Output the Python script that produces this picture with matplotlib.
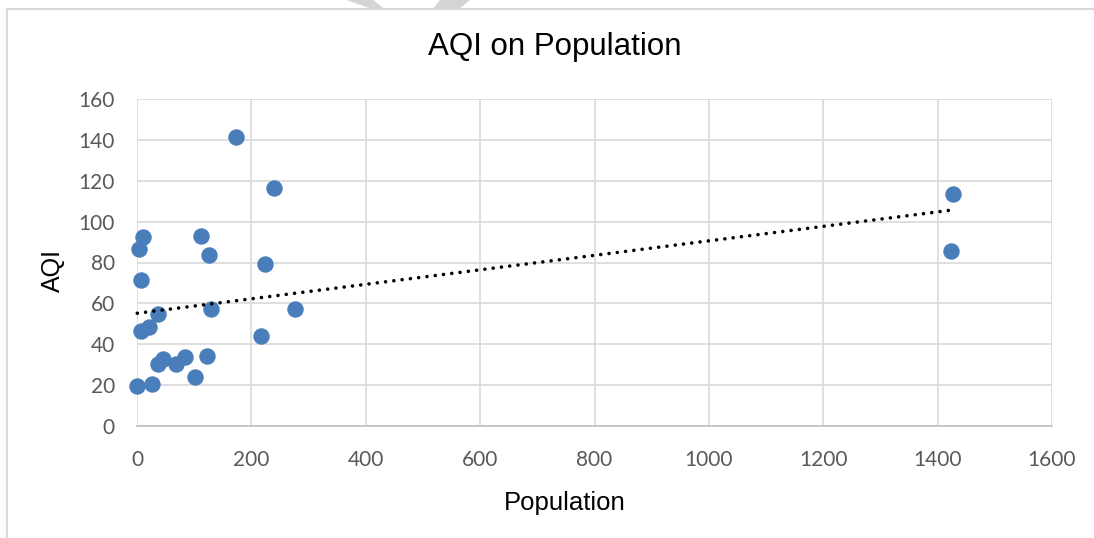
import numpy as np
import matplotlib
matplotlib.use("Agg")
import matplotlib.pyplot as plt
from matplotlib.patches import Polygon, Rectangle

population = [173, 240, 10, 4, 112, 126, 224, 6.5, 37, 129, 277, 6.5, 21, 216,
              46, 37, 68, 84, 123, 102, 0.5, 26, 1427, 1424]
aqi = [141.6, 116.3, 92.3, 86.6, 92.8, 83.9, 79.5, 71.6, 54.8, 57.3, 57.1, 46.6,
       48.6, 44.0, 32.9, 30.3, 30.3, 33.8, 34.4, 24.1, 19.6, 20.4, 113.6, 85.6]
x_ticks = [0, 200, 400, 600, 800, 1000, 1200, 1400, 1600]
y_ticks = [0, 20, 40, 60, 80, 100, 120, 140, 160]

W, H = 1094, 538
fig = plt.figure(figsize=(W / 100, H / 100), dpi=100)

def fx(px):
    return px / W

def fy(py):
    return 1 - py / H

# chart border (extends beyond image right/bottom)
fig.patches.append(Rectangle((fx(6.5), fy(560)), fx(1120) - fx(6.5), fy(9) - fy(560),
                             transform=fig.transFigure, fill=False,
                             edgecolor="#d9d9d9", lw=1.5))
# faint watermark pieces at top
for pts in ([(346.7, 0), (373.3, 0), (383.3, 8.3), (370, 8.3)],
            [(440, 0), (470, 0), (460, 8.3), (433.3, 8.3)]):
    fig.patches.append(Polygon([(fx(a), fy(b)) for a, b in pts], closed=True,
                               transform=fig.transFigure, facecolor="#d4d4d4",
                               edgecolor="none"))

left, right, top, bottom = 137, 1052, 99, 426
ax = fig.add_axes([fx(left), fy(bottom), fx(right) - fx(left), fy(top) - fy(bottom)])
ax.set_xlim(0, 1600)
ax.set_ylim(0, 160)
ax.set_xticks(x_ticks)
ax.set_yticks(y_ticks)
ax.set_xticklabels([str(v) for v in x_ticks])
ax.set_yticklabels([str(v) for v in y_ticks])
ax.grid(True, color="#d9d9d9", lw=1.2)
ax.set_axisbelow(True)
for s in ("top", "right", "left"):
    ax.spines[s].set_visible(False)
ax.spines["bottom"].set_color("#bfbfbf")
ax.spines["bottom"].set_linewidth(1.2)
ax.tick_params(length=0, labelsize=15, labelcolor="#595959")
for lab in ax.get_xticklabels() + ax.get_yticklabels():
    lab.set_fontfamily("Lato")
ax.tick_params(axis="x", pad=17)
ax.tick_params(axis="y", pad=16)

ax.scatter(population, aqi, s=140, color="#4a7ebb", zorder=3, linewidths=0,
           clip_on=False)

xs = np.array(population)
ys = np.array(aqi)
m, b = np.polyfit(xs, ys, 1)
xl = np.array([xs.min(), xs.max()])
ax.plot(xl, m * xl + b, color="black", lw=2.6, linestyle=(0, (0.01, 2.3)),
        dash_capstyle="round", zorder=4, clip_on=False)

fig.text(fx(555), fy(47), "AQI on Population", ha="center", va="center",
         fontsize=22.5, family="Liberation Sans", color="black")
fig.text(fx(565), fy(510), "Population", ha="center", va="baseline",
         fontsize=18.5, family="Liberation Sans", color="black")
fig.text(fx(53), fy(271), "AQI", ha="center", va="center", rotation=90,
         fontsize=18, family="Liberation Sans", color="black")

fig.savefig("out.png", dpi=100)
